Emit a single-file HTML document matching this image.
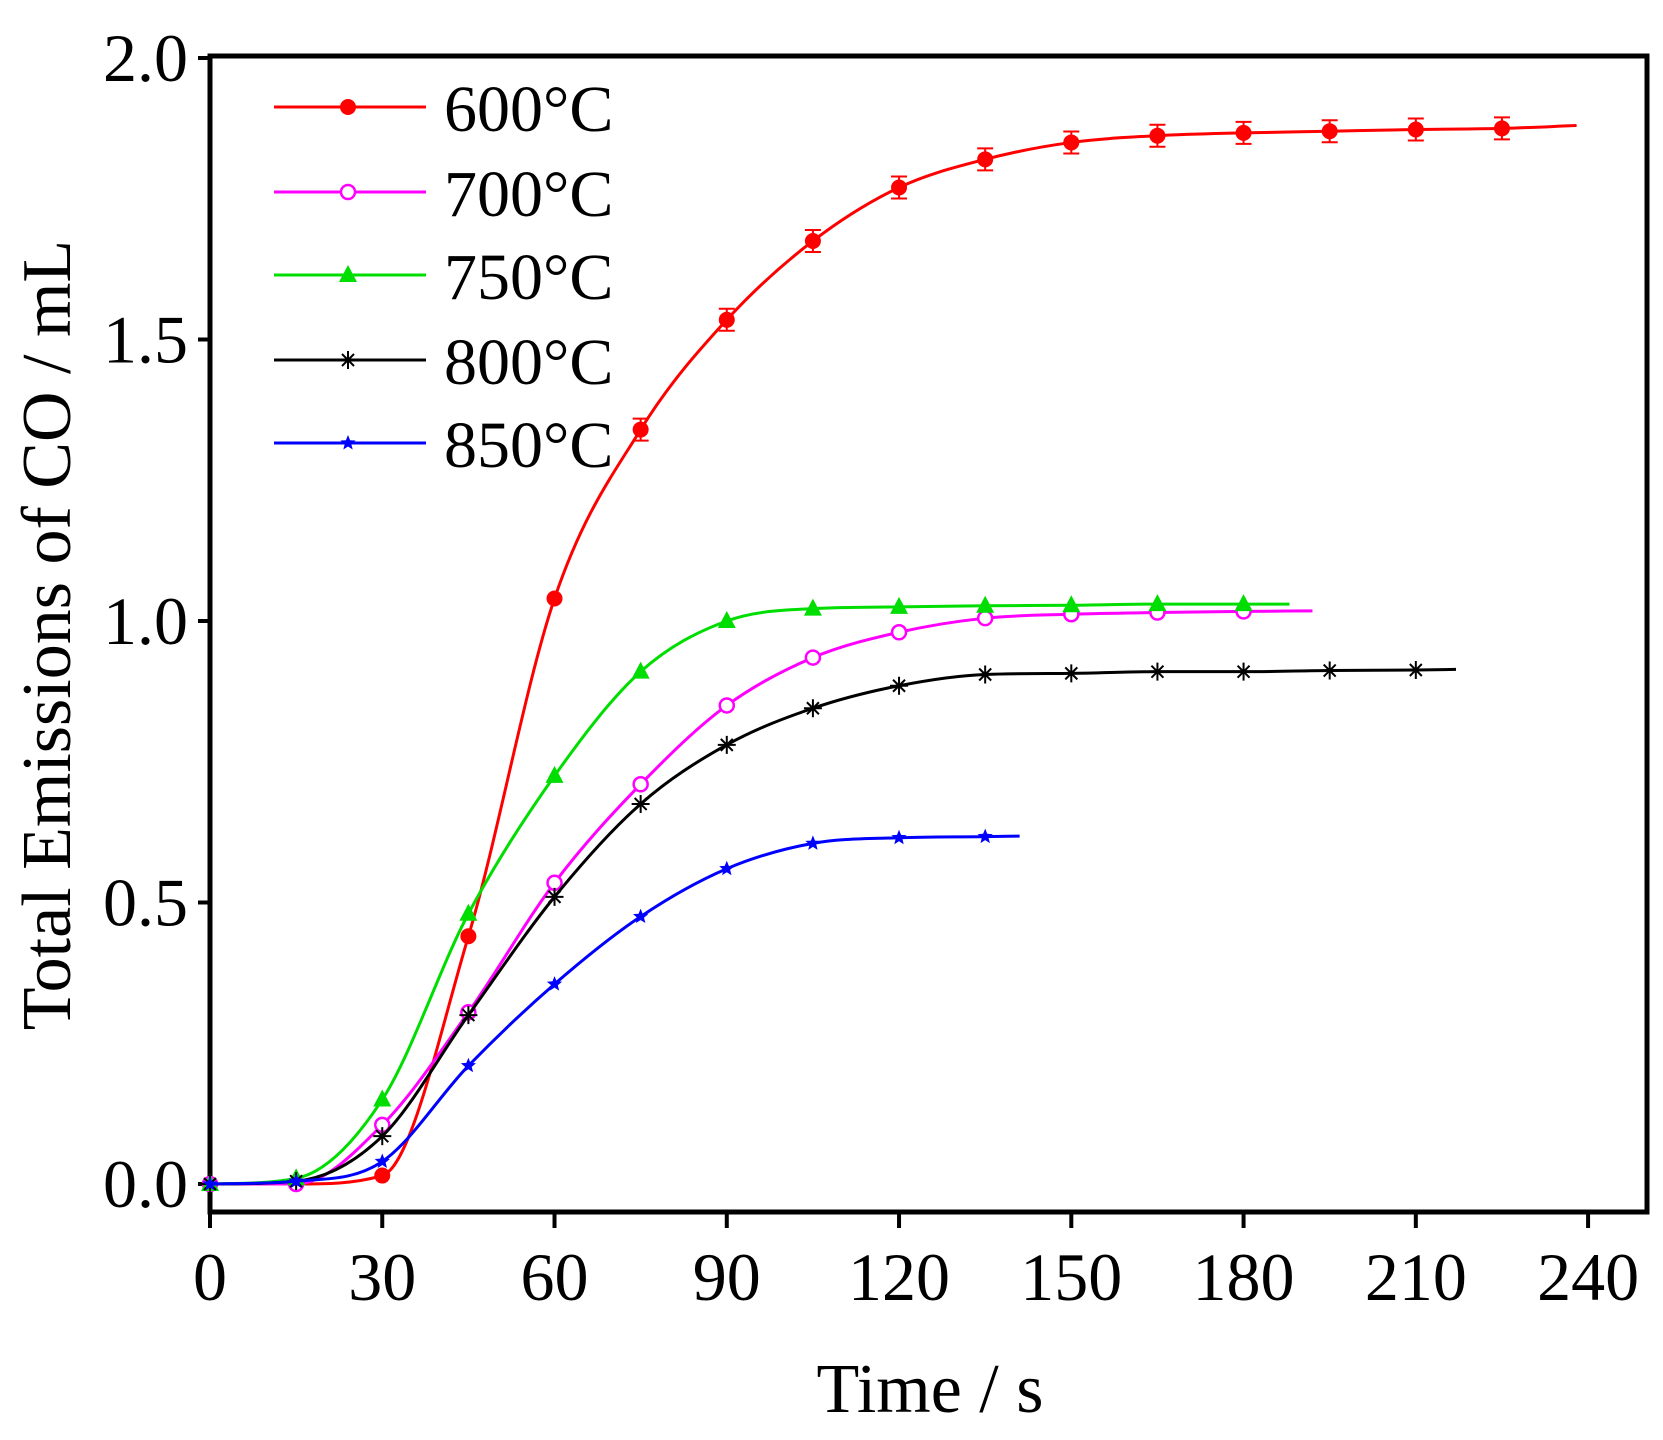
<!DOCTYPE html>
<html><head><meta charset="utf-8"><style>
html,body{margin:0;padding:0;background:#fff;}
svg{display:block;font-family:"Liberation Serif",serif;}
</style></head><body>
<svg id="s" width="1663" height="1440" viewBox="0 0 1663 1440" xmlns="http://www.w3.org/2000/svg">
<rect x="210" y="56" width="1437" height="1156" fill="none" stroke="#000" stroke-width="5"/>
<g id="ticks" stroke="#000" stroke-width="4"></g>
<g font-size="68" text-anchor="middle" id="xl"></g>
<g font-size="68" text-anchor="end" id="yl"></g>
<text x="930" y="1412" font-size="70" text-anchor="middle">Time / s</text>
<text transform="translate(70,635) rotate(-90)" font-size="70" text-anchor="middle">Total Emissions of CO / mL</text>
<g id="plot"></g>
<g id="leg" font-size="66"></g>
</svg>
<script>
const X=t=>210+t*5.742, Y=v=>1184-v*563;
const ns="http://www.w3.org/2000/svg";
function el(p,n,a,txt){const e=document.createElementNS(ns,n);for(const k in a)e.setAttribute(k,a[k]);if(txt!=null)e.textContent=txt;document.getElementById(p).appendChild(e);return e;}
for(let t=0;t<=240;t+=30){el('ticks','line',{x1:X(t),x2:X(t),y1:1212,y2:1228});el('xl','text',{x:X(t),y:1300},t);}
for(let v=0;v<=2;v+=0.5){el('ticks','line',{x1:210,x2:198,y1:Y(v),y2:Y(v)});el('yl','text',{x:188,y:Y(v)+23},v.toFixed(1));}
const S=[
{c:'#ff0000',m:'dot',end:[238,1.88],d:[0,0,0.015,0.44,1.04,1.34,1.535,1.675,1.77,1.82,1.85,1.862,1.867,1.87,1.873,1.875]},
{c:'#ff00ff',m:'ring',end:[192,1.018],d:[0,0,0.105,0.305,0.535,0.71,0.85,0.935,0.98,1.005,1.012,1.015,1.017]},
{c:'#00dd00',m:'tri',end:[188,1.03],d:[0,0.01,0.15,0.48,0.725,0.91,1.0,1.022,1.025,1.027,1.028,1.03,1.03]},
{c:'#000000',m:'star',end:[217,0.914],d:[0,0.005,0.085,0.3,0.51,0.675,0.78,0.845,0.885,0.905,0.907,0.91,0.91,0.912,0.913]},
{c:'#0000ff',m:'st5',end:[141,0.618],d:[0,0.005,0.04,0.21,0.355,0.475,0.56,0.605,0.615,0.617]}];
function marker(g,m,x,y,c){
 if(m=='dot')el(g,'circle',{cx:x,cy:y,r:8,fill:c});
 else if(m=='ring')el(g,'circle',{cx:x,cy:y,r:7,fill:'#fff',stroke:c,'stroke-width':2.5});
 else if(m=='tri')el(g,'polygon',{points:`${x},${y-10} ${x-9},${y+7} ${x+9},${y+7}`,fill:c});
 else if(m=='star'){el(g,'path',{d:`M${x-9} ${y}H${x+9}M${x} ${y-9}V${y+9}M${x-6} ${y-6}L${x+6} ${y+6}M${x+6} ${y-6}L${x-6} ${y+6}`,stroke:c,'stroke-width':2,fill:'none'});}
 else {let p='';for(let i=0;i<10;i++){const r=i%2?3.5:8,a=-Math.PI/2+i*Math.PI/5;p+=(x+r*Math.cos(a)).toFixed(1)+','+(y+r*Math.sin(a)).toFixed(1)+' ';}el(g,'polygon',{points:p,fill:c});}
}
function mono(pts){
 const n=pts.length,dx=[],sl=[];for(let i=0;i<n-1;i++){dx.push(pts[i+1][0]-pts[i][0]);sl.push((pts[i+1][1]-pts[i][1])/dx[i]);}
 const m=[sl[0]];for(let i=1;i<n-1;i++){m.push(sl[i-1]*sl[i]<=0?0:(sl[i-1]+sl[i])/2);}m.push(sl[n-2]);
 for(let i=0;i<n-1;i++){if(sl[i]==0){m[i]=m[i+1]=0;continue;}const a=m[i]/sl[i],b=m[i+1]/sl[i],h=a*a+b*b;if(h>9){const t=3/Math.sqrt(h);m[i]=t*a*sl[i];m[i+1]=t*b*sl[i];}}
 let d=`M${pts[0][0]} ${pts[0][1]}`;
 for(let i=0;i<n-1;i++){const h=dx[i]/3;d+=` C${pts[i][0]+h} ${pts[i][1]+m[i]*h} ${pts[i+1][0]-h} ${pts[i+1][1]-m[i+1]*h} ${pts[i+1][0]} ${pts[i+1][1]}`;}
 return d;}
S.forEach((s,si)=>{
 const pts=s.d.map((v,i)=>[X(i*15),Y(v)]);pts.push([X(s.end[0]),Y(s.end[1])]);
 el('plot','path',{d:mono(pts),fill:'none',stroke:s.c,'stroke-width':3});
 pts.slice(0,-1).forEach(p=>{ if(si==0&&p[0]>X(60)){el('plot','path',{d:`M${p[0]} ${p[1]-11}V${p[1]+11}M${p[0]-8} ${p[1]-11}H${p[0]+8}M${p[0]-8} ${p[1]+11}H${p[0]+8}`,stroke:s.c,'stroke-width':2});}
  marker('plot',s.m,p[0],p[1],s.c);});
 const ly=[107,192,275,360,443][si];
 el('leg','line',{x1:274,x2:426,y1:ly,y2:ly,stroke:s.c,'stroke-width':3});
 marker('leg',s.m,348,ly,s.c);
 el('leg','text',{x:444,y:ly+24},['600°C','700°C','750°C','800°C','850°C'][si]);
});
</script>
</body></html>
